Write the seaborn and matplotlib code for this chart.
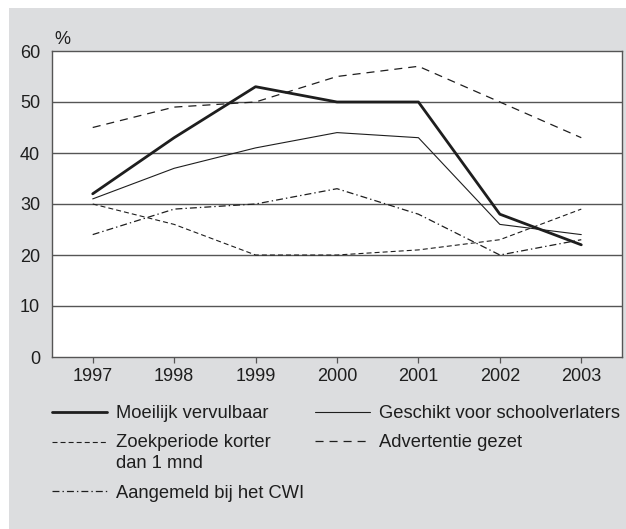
import pandas as pd
import numpy as np
import matplotlib
matplotlib.use('Agg')
import matplotlib.pyplot as plt
import seaborn as sns
from matplotlib.patches import Rectangle
from matplotlib.transforms import Affine2D

# data
years = [1997, 1998, 1999, 2000, 2001, 2002, 2003]
moeilijk = [32, 43, 53, 50, 50, 28, 22]
geschikt = [31, 37, 41, 44, 43, 26, 24]
zoekperiode = [30, 26, 20, 20, 21, 23, 29]
advertentie = [45, 49, 50, 55, 57, 50, 43]
aangemeld = [24, 29, 30, 33, 28, 20, 23]

labels = ['Moeilijk vervulbaar', 'Geschikt voor schoolverlaters',
          'Zoekperiode korter\ndan 1 mnd', 'Advertentie gezet',
          'Aangemeld bij het CWI']
series = [moeilijk, geschikt, zoekperiode, advertentie, aangemeld]

sns.set_theme(style='white')
plt.rcParams['font.family'] = ['Liberation Sans', 'DejaVu Sans']
plt.rcParams['lines.scale_dashes'] = False

ink = '#1e1e1e'
grid = '#555555'
panel = '#dcdddf'

styles = {
    labels[0]: dict(lw=2.0, ls='-'),
    labels[1]: dict(lw=0.8, ls='-'),
    labels[2]: dict(lw=0.8, ls=(0, (3.6, 2.2))),
    labels[3]: dict(lw=0.9, ls=(0, (5.8, 4.3))),
    labels[4]: dict(lw=0.9, ls=(0, (5.0, 2.2, 1.0, 2.2))),
}

W, H = 626, 529
fig = plt.figure(figsize=(W / 100, H / 100), dpi=100)
fig.patch.set_facecolor('white')
fig.patches.append(Rectangle((9 / W, 0), 1, 1 - 8 / H, transform=fig.transFigure,
                             facecolor=panel, edgecolor='none', zorder=-10))

ax = fig.add_axes([52 / W, 1 - 357 / H, (622 - 52) / W, (357 - 51) / H])
ax.set_facecolor('white')

for lab, vals in zip(labels, series):
    df = pd.DataFrame({'jaar': years, 'pct': vals})
    st = styles[lab]
    sns.lineplot(data=df, x='jaar', y='pct', ax=ax, color=ink, linewidth=st['lw'],
                 linestyle=st['ls'], label=lab, legend=False)

ax.set_xlim(1996.5, 2003.5)
ax.set_ylim(0, 60)
ax.set_xticks(years)
ax.set_yticks(range(0, 70, 10))
ax.set_xlabel('')
ax.set_ylabel('')
for y in range(10, 60, 10):
    ax.axhline(y, color=grid, lw=1.0, zorder=0)
for s in ax.spines.values():
    s.set_color(grid)
    s.set_linewidth(1.0)
    s.set_visible(True)
ax.tick_params(axis='x', length=4.3, width=0.9, color=grid, direction='out',
               pad=3.5, labelsize=13, labelcolor=ink, bottom=True)
ax.tick_params(axis='y', length=0, pad=8.5, labelsize=13, labelcolor=ink)

fig.text(62 / W, 1 - 39 / H, '%', ha='center', va='center', fontsize=13, color=ink)

h, l = ax.get_legend_handles_labels()
order = [0, 2, 4, 1, 3]
leg = fig.legend([h[i] for i in order], [l[i] for i in order], ncol=2,
                 loc='upper left', bbox_to_anchor=(52 / W, 1 - 405 / H),
                 frameon=False, fontsize=13.2, handlelength=3.0, handletextpad=0.5,
                 columnspacing=0.6, labelspacing=0.68, borderpad=0, borderaxespad=0,
                 labelcolor=ink)
for t in leg.get_texts():
    t.set_linespacing(1.3)

# the two-line entry: put its handle next to the first line, as in the reference
zl = leg.get_lines()[1]
zl.set_transform(zl.get_transform() + Affine2D().translate(0, 11))

fig.savefig('out.png', dpi=100)
